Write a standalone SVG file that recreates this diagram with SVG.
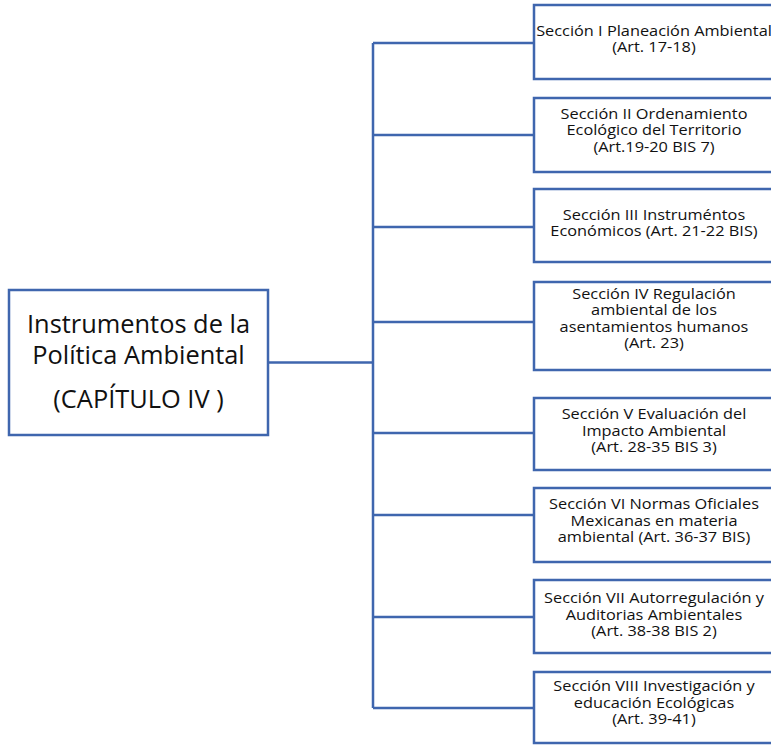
<svg xmlns="http://www.w3.org/2000/svg" width="771" height="745" viewBox="0 0 771 745">
  <style>
    .box { fill: #ffffff; stroke: #3F66AE; stroke-width: 2.5; }
    .link { fill: none; stroke: #3F66AE; stroke-width: 2.5; }
    .t { font-family: "Open Sans", "Noto Sans", "Liberation Sans", sans-serif; fill: #111111; text-anchor: middle; }
    .main { font-size: 25.4px; }
    .sec { font-size: 14.2px; }
  </style>
  <rect width="771" height="745" fill="#ffffff"/>

  <!-- connectors: trunk and branches -->
  <g id="connectors">
    <path class="link" d="M268 362.5 H373"/>
    <path class="link" d="M373 43 V708"/>
    <path class="link" d="M373 43 H534"/>
    <path class="link" d="M373 135 H534"/>
    <path class="link" d="M373 227 H534"/>
    <path class="link" d="M373 322 H534"/>
    <path class="link" d="M373 433 H534"/>
    <path class="link" d="M373 515 H534"/>
    <path class="link" d="M373 617 H534"/>
    <path class="link" d="M373 708 H534"/>
  </g>

  <!-- root node -->
  <g id="root">
    <rect class="box" x="9" y="290" width="259" height="145"/>
    <text class="t main" x="138.5" y="333">Instrumentos de la</text>
    <text class="t main" x="138.5" y="363.5">Política Ambiental</text>
    <text class="t main" x="138.5" y="408">(CAPÍTULO IV )</text>
  </g>

  <!-- section nodes: labels are set in a slightly widened face -->
  <g id="sec1">
    <rect class="box" x="534" y="5" width="241" height="74"/>
    <g transform="translate(654 0) scale(1.15 1)">
      <text class="t sec" x="0" y="36">Sección I Planeación Ambiental</text>
      <text class="t sec" x="0" y="52">(Art. 17-18)</text>
    </g>
  </g>
  <g id="sec2">
    <rect class="box" x="534" y="98" width="241" height="74"/>
    <g transform="translate(654 0) scale(1.15 1)">
      <text class="t sec" x="0" y="119">Sección II Ordenamiento</text>
      <text class="t sec" x="0" y="135.5">Ecológico del Territorio</text>
      <text class="t sec" x="0" y="152">(Art.19-20 BIS 7)</text>
    </g>
  </g>
  <g id="sec3">
    <rect class="box" x="534" y="189" width="241" height="73"/>
    <g transform="translate(654 0) scale(1.15 1)">
      <text class="t sec" x="0" y="220">Sección III Instruméntos</text>
      <text class="t sec" x="0" y="236">Económicos (Art. 21-22 BIS)</text>
    </g>
  </g>
  <g id="sec4">
    <rect class="box" x="534" y="282" width="241" height="88"/>
    <g transform="translate(654 0) scale(1.15 1)">
      <text class="t sec" x="0" y="299">Sección IV Regulación</text>
      <text class="t sec" x="0" y="315.5">ambiental de los</text>
      <text class="t sec" x="0" y="332">asentamientos humanos</text>
      <text class="t sec" x="0" y="348">(Art. 23)</text>
    </g>
  </g>
  <g id="sec5">
    <rect class="box" x="534" y="398" width="241" height="72"/>
    <g transform="translate(654 0) scale(1.15 1)">
      <text class="t sec" x="0" y="419.5">Sección V Evaluación del</text>
      <text class="t sec" x="0" y="436">Impacto Ambiental</text>
      <text class="t sec" x="0" y="452">(Art. 28-35 BIS 3)</text>
    </g>
  </g>
  <g id="sec6">
    <rect class="box" x="534" y="488" width="241" height="74"/>
    <g transform="translate(654 0) scale(1.15 1)">
      <text class="t sec" x="0" y="509.5">Sección VI Normas Oficiales</text>
      <text class="t sec" x="0" y="526">Mexicanas en materia</text>
      <text class="t sec" x="0" y="542">ambiental (Art. 36-37 BIS)</text>
    </g>
  </g>
  <g id="sec7">
    <rect class="box" x="534" y="580" width="241" height="73"/>
    <g transform="translate(654 0) scale(1.15 1)">
      <text class="t sec" x="0" y="603.5">Sección VII Autorregulación y</text>
      <text class="t sec" x="0" y="620">Auditorias Ambientales</text>
      <text class="t sec" x="0" y="636">(Art. 38-38 BIS 2)</text>
    </g>
  </g>
  <g id="sec8">
    <rect class="box" x="534" y="672" width="241" height="71"/>
    <g transform="translate(654 0) scale(1.15 1)">
      <text class="t sec" x="0" y="691.5">Sección VIII Investigación y</text>
      <text class="t sec" x="0" y="708">educación Ecológicas</text>
      <text class="t sec" x="0" y="724">(Art. 39-41)</text>
    </g>
  </g>
</svg>
